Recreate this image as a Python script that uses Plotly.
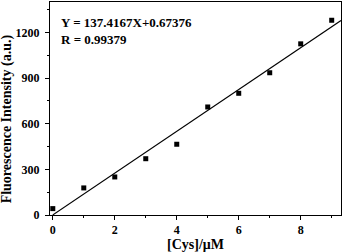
import plotly.graph_objects as go

conc = [0, 1, 2, 3, 4, 5, 6, 7, 8, 9]
intensity = [42, 178, 250, 370, 465, 710, 800, 935, 1125, 1280]

slope = 137.4167
intercept = 0.67376
fit_x = [0, 9.3]
fit_y = [slope * v + intercept for v in fit_x]

font_family = "Liberation Serif, Times New Roman, serif"

fig = go.Figure()

fig.add_trace(go.Scatter(
    x=fit_x, y=fit_y, mode='lines',
    line=dict(color='black', width=1.2),
    showlegend=False
))

fig.add_trace(go.Scatter(
    x=conc, y=intensity, mode='markers',
    marker=dict(symbol='square', color='black', size=5),
    showlegend=False
))

fig.add_annotation(
    x=0.03, y=0.95, xref='paper', yref='paper',
    xanchor='left', yanchor='top', align='left', showarrow=False,
    text="<b>Y = 137.4167X+0.67376<br>R = 0.99379</b>",
    font=dict(family=font_family, size=13, color='black')
)

# y title placed as annotation (sits a bit below the plot centre in the original)
fig.add_annotation(
    x=-0.147, y=0.45, xref='paper', yref='paper',
    xanchor='center', yanchor='middle', showarrow=False, textangle=-90,
    text="<b>Fluorescence Intensity (a.u.)</b>",
    font=dict(family=font_family, size=14, color='black')
)

axis_common = dict(
    showline=True, linecolor='black', linewidth=1, mirror=True,
    showgrid=False, zeroline=False,
    ticks='outside', ticklen=4, tickcolor='black', tickwidth=1,
    tickfont=dict(family=font_family, size=12, color='black'),
)

fig.update_xaxes(
    range=[-0.09, 9.3], tickvals=[0, 2, 4, 6, 8],
    ticktext=["<b>0</b>", "<b>2</b>", "<b>4</b>", "<b>6</b>", "<b>8</b>"],
    minor=dict(tickvals=[1, 3, 5, 7, 9], ticks='outside', ticklen=2, tickcolor='black'),
    title=dict(text="<b>[Cys]/μM</b>", font=dict(family=font_family, size=14, color='black'), standoff=2),
    **axis_common
)
fig.update_yaxes(
    range=[0, 1400], tickvals=[0, 300, 600, 900, 1200],
    ticktext=["<b>0</b>", "<b>300</b>", "<b>600</b>", "<b>900</b>", "<b>1200</b>"],
    minor=dict(tickvals=[150, 450, 750, 1050, 1350], ticks='outside', ticklen=2, tickcolor='black'),
    ticklabelstandoff=3,
    **axis_common
)

fig.update_layout(
    width=343, height=252,
    margin=dict(l=50, r=2, t=2, b=37),
    paper_bgcolor='white', plot_bgcolor='white'
)

fig.write_html("out.html", config=dict(displayModeBar=False),
               post_script="document.body.style.margin='0px';")
